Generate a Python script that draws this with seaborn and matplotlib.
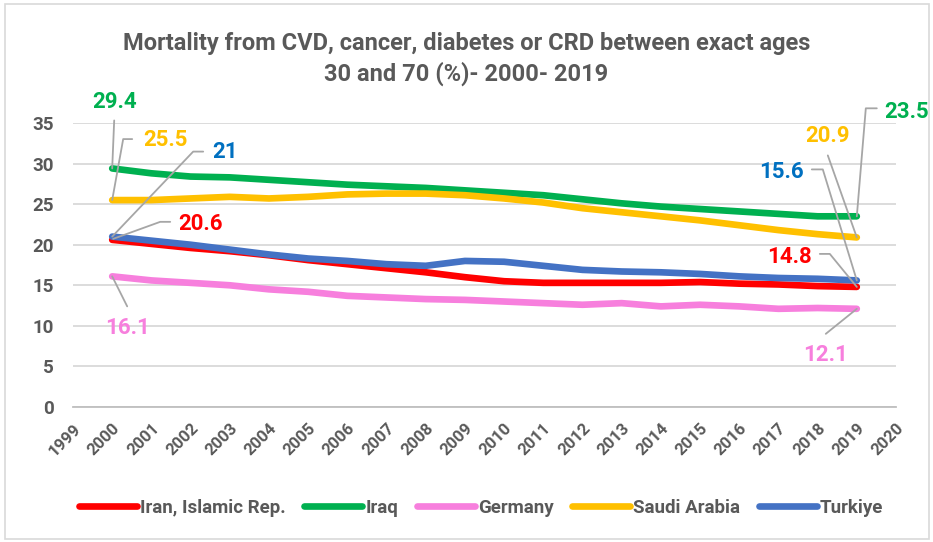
import matplotlib
matplotlib.use("Agg")
import matplotlib.pyplot as plt
import numpy as np
import pandas as pd
import seaborn as sns
from matplotlib.lines import Line2D
from matplotlib.patches import Rectangle
from matplotlib.transforms import IdentityTransform

# Mortality (%) from CVD, cancer, diabetes or CRD, ages 30-70
years = list(range(2000, 2020))
iran = [20.6, 20.1, 19.6, 19.2, 18.7, 18.1, 17.6, 17.1, 16.6, 16.0,
        15.5, 15.3, 15.3, 15.3, 15.3, 15.4, 15.2, 15.1, 14.9, 14.8]
iraq = [29.4, 28.8, 28.4, 28.3, 28.0, 27.7, 27.4, 27.2, 27.0, 26.7,
        26.4, 26.1, 25.6, 25.1, 24.7, 24.4, 24.1, 23.8, 23.5, 23.5]
germany = [16.1, 15.6, 15.3, 15.0, 14.5, 14.2, 13.7, 13.5, 13.3, 13.2,
           13.0, 12.8, 12.6, 12.8, 12.4, 12.6, 12.4, 12.1, 12.2, 12.1]
saudi = [25.5, 25.5, 25.7, 25.9, 25.7, 25.9, 26.2, 26.3, 26.3, 26.1,
         25.7, 25.2, 24.5, 24.0, 23.5, 23.0, 22.4, 21.8, 21.3, 20.9]
turkiye = [21.0, 20.5, 20.0, 19.4, 18.8, 18.3, 18.0, 17.6, 17.4, 18.0,
           17.9, 17.4, 16.9, 16.7, 16.6, 16.4, 16.1, 15.9, 15.8, 15.6]

countries = ["Iran, Islamic Rep.", "Iraq", "Germany", "Saudi Arabia", "Turkiye"]
series = [iran, iraq, germany, saudi, turkiye]
line_colors = ["#FF0000", "#00B050", "#F77FDD", "#FFC000", "#4472C4"]
label_colors = ["#FF0000", "#00B050", "#F77FDD", "#FFC000", "#0070C0"]
x_ticks = list(range(1999, 2021))
y_ticks = [0, 5, 10, 15, 20, 25, 30, 35]
title = "Mortality from CVD, cancer, diabetes or CRD between exact ages\n30 and 70 (%)- 2000- 2019"

df = pd.DataFrame({
    "Year": years * len(countries),
    "Value": [v for s in series for v in s],
    "Country": [c for c in countries for _ in years],
})

sns.set_theme(style="white")
plt.rcParams["font.family"] = ["Roboto", "DejaVu Sans"]
text_gray = "#595959"

W, H = 933, 542
fig = plt.figure(figsize=(W / 100, H / 100), dpi=100)
ax = fig.add_axes([73 / W, 1 - 407 / H, (896 - 73) / W, (407 - 123) / H])

sns.lineplot(data=df, x="Year", y="Value", hue="Country", hue_order=countries,
             palette=line_colors, linewidth=4.8, ax=ax, legend=False,
             solid_capstyle="round", solid_joinstyle="round")

ax.set_xlim(1999, 2020)
ax.set_ylim(0, 35)
ax.set_xticks(x_ticks)
ax.set_xticklabels([str(t) for t in x_ticks], rotation=45, ha="right",
                   rotation_mode="anchor", fontsize=12, fontweight="bold",
                   color=text_gray)
ax.set_yticks(y_ticks)
ax.set_yticklabels([str(t) for t in y_ticks], fontsize=13.5, fontweight="bold",
                   color=text_gray)
ax.set_xlabel("")
ax.set_ylabel("")
ax.yaxis.grid(True, color="#d9d9d9", linewidth=1.3)
ax.set_axisbelow(True)
for side in ["left", "right", "top"]:
    ax.spines[side].set_visible(False)
ax.spines["bottom"].set_color("#bfbfbf")
ax.spines["bottom"].set_linewidth(1.3)
ax.tick_params(axis="x", direction="out", length=6, width=1.2, color="#bfbfbf", pad=4)
ax.tick_params(axis="y", length=0, pad=14)

# value labels with gray leader lines (offsets in pixels, y measured downward)
labels = [
    # series index, year, text offset, leader vertices
    (1, 2000, (2, -66), [(2, -48), (0, 0)]),
    (3, 2000, (53, -60), [(20, -61), (11, -61), (0, 0)]),
    (4, 2000, (113, -85), [(91, -85), (81, -85), (0, 0)]),
    (0, 2000, (88, -16), [(58, -18), (48, -18), (1, -1)]),
    (2, 2000, (15, 52), [(15, 30), (0, 0)]),
    (1, 2019, (50, -104), [(20, -108), (9, -108), (0, 0)]),
    (3, 2019, (-29, -101), [(-29, -82), (0, 0)]),
    (4, 2019, (-75, -108), [(-45, -111), (-34, -111), (0, 0)]),
    (0, 2019, (-67, -30), [(-37, -33), (-27, -33), (0, 0)]),
    (2, 2019, (-31, 46), [(-31, 25), (0, 0)]),
]
ident = IdentityTransform()
for idx, yr, (tx, ty), path in labels:
    val = series[idx][years.index(yr)]
    px, py = ax.transData.transform((yr, val))
    xs = [px + dx for dx, dy in path]
    ys = [py - dy for dx, dy in path]
    fig.add_artist(Line2D(xs, ys, transform=ident, color="#a6a6a6", linewidth=1.3))
    fig.text(px + tx, py - ty, f"{val:g}", transform=ident, ha="center", va="center",
             fontsize=16, fontweight="bold", color=label_colors[idx])

fig.text(0.5, 1 - 59 / H, title, ha="center", va="center", fontsize=17,
         fontweight="bold", color=text_gray, linespacing=1.3)

handles = [Line2D([0], [0], color=c, linewidth=4.8, solid_capstyle="round")
           for c in line_colors]
leg = fig.legend(handles, countries, loc="center", bbox_to_anchor=(481 / W, 1 - 508 / H),
                 ncol=5, frameon=False, handlelength=3.1, handletextpad=0.15,
                 columnspacing=1.0, prop={"weight": "bold", "size": 13.5})
for t in leg.get_texts():
    t.set_color(text_gray)

fig.add_artist(Rectangle((5 / W, 3 / H), (W - 9) / W, (H - 7) / H,
                         transform=fig.transFigure, fill=False,
                         edgecolor="#d9d9d9", linewidth=1.2))

fig.savefig("out.png", dpi=100)
